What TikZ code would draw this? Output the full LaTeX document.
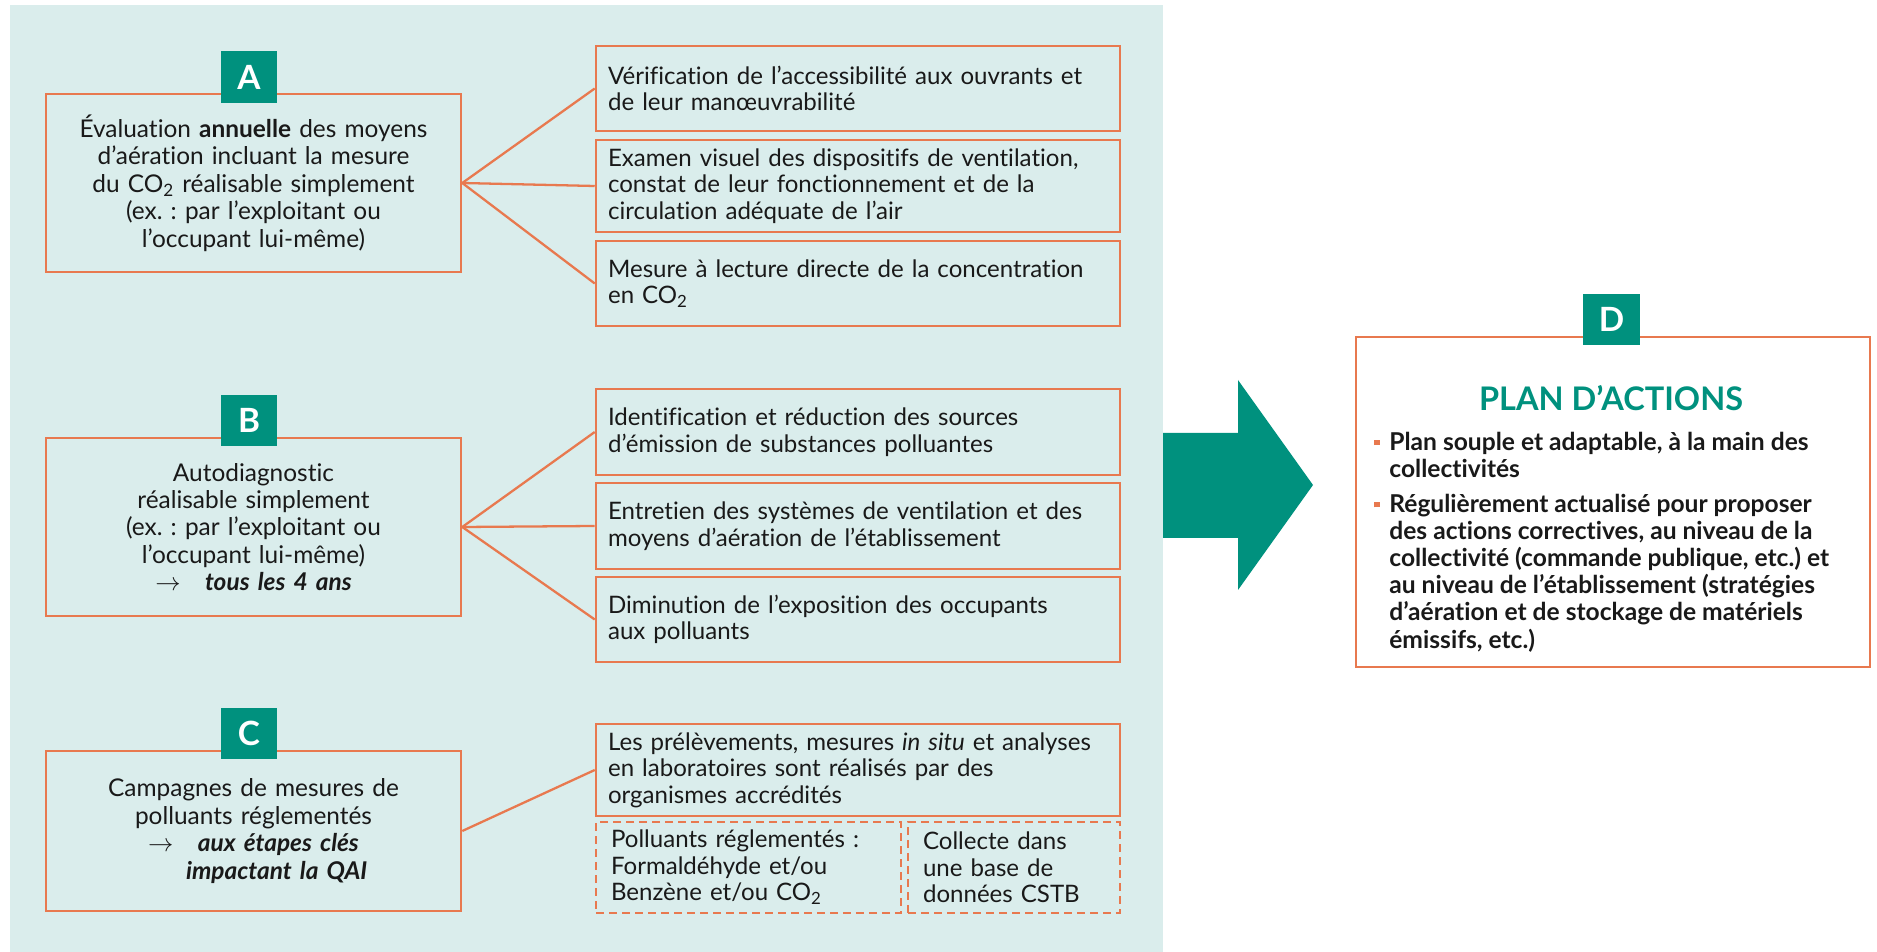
\documentclass[tikz,border=0pt]{standalone}
\usepackage{fontspec}
\setmainfont{Lato}[Ligatures=NoCommon]
\usetikzlibrary{positioning}
\definecolor{fond}{RGB}{218,237,236}
\definecolor{orangec}{RGB}{232,121,79}
\definecolor{sarcelle}{RGB}{0,145,126}
\definecolor{texte}{RGB}{25,25,25}
\frenchspacing
\newcommand{\puce}{\makebox[0.3cm][l]{\textcolor{orangec}{\rule[0.22em]{0.11cm}{0.11cm}}}}
\tikzset{
    every node/.style = {font=\fontsize{13.7}{15.1}\selectfont, text=texte},
    cadre/.style = {draw=orangec, line width=1.5pt, minimum width=8.3cm, text width=7.6cm, align=center, font=\fontsize{13.9}{15.6}\selectfont},
    action/.style = {draw=orangec, line width=1.5pt, text width=10cm, inner xsep=0.24cm, align=left},
    pointille/.style = {draw=orangec, line width=1.5pt, dash pattern=on 0.16cm off 0.1cm, inner xsep=0.3cm, align=left},
    lettre/.style = {fill=sarcelle, text=white, font=\fontsize{19}{19}\bfseries\selectfont, minimum width=1.14cm, minimum height=1.04cm, inner sep=0pt},
    lien/.style = {draw=orangec, line width=1.3pt}
}

\begin{document}
\begin{tikzpicture}[x=0.02cm, y=-0.02cm]
    \useasboundingbox (0,0) rectangle (1877,952);
    \fill[fond] (10,5) rectangle (1163,952);

    % colonne de gauche
    \node[cadre, minimum height=3.56cm] (A) at (253.5,183) {\'Evaluation \textbf{annuelle} des moyens\\ d’aération incluant la mesure\\ du CO\textsubscript{2} réalisable simplement\\ (ex. : par l’exploitant ou\\ l’occupant lui-même)};
    \node[cadre, minimum height=3.56cm] (B) at (253.5,527) {Autodiagnostic\\ réalisable simplement\\ (ex. : par l’exploitant ou\\ l’occupant lui-même)\\ $\rightarrow$\quad\textbf{\textit{tous les 4 ans}}};
    \node[cadre, minimum height=3.2cm] (C) at (253.5,831) {Campagnes de mesures de\\ polluants réglementés\\ $\rightarrow$\quad\textbf{\textit{aux étapes clés}}\\ \hspace*{1.9em}\textbf{\textit{impactant la QAI}}};

    \node[lettre] (lA) at (249,77) {A};
    \node[lettre] (lB) at (249,420.5) {B};
    \node[lettre] (lC) at (249,733.5) {C};

    % actions
    \node[action, minimum height=1.7cm] (A1) at (858,88.5) {Vérification de l’accessibilité aux ouvrants et\\ de leur manœuvrabilité};
    \node[action, minimum height=1.84cm] (A2) at (858,186) {Examen visuel des dispositifs de ventilation,\\ constat de leur fonctionnement et de la\\ circulation adéquate de l’air};
    \node[action, minimum height=1.7cm] (A3) at (858,283.5) {Mesure à lecture directe de la concentration\\ en CO\textsubscript{2}};
    \node[action, minimum height=1.72cm] (B1) at (858,432) {Identification et réduction des sources\\ d'émission de substances polluantes};
    \node[action, minimum height=1.72cm] (B2) at (858,526) {Entretien des systèmes de ventilation et des\\ moyens d'aération de l'établissement};
    \node[action, minimum height=1.7cm] (B3) at (858,619.5) {Diminution de l'exposition des occupants\\ aux polluants};
    \node[action, minimum height=1.84cm] (C1) at (858,770) {Les prélèvements, mesures \textit{in situ} et analyses\\ en laboratoires sont réalisés par des\\ organismes accrédités};
    \node[pointille, text width=5.5cm, minimum height=1.82cm] (C2) at (748.5,867.5) {Polluants réglementés :\\ Formaldéhyde et/ou\\ Benzène et/ou CO\textsubscript{2}};
    \node[pointille, text width=3.64cm, minimum height=1.82cm] (C3) at (1014,867.5) {Collecte dans\\ une base de\\ données CSTB};

    \draw[lien] (A.east) edge (A1.west) edge (A2.west) edge (A3.west);
    \draw[lien] (B.east) edge (B1.west) edge (B2.west) edge (B3.west);
    \draw[lien] (C.east) edge (C1.west);

    % fleche
    \fill[sarcelle] (1163,433) -- (1238,433) -- (1238,380) -- (1313,485) -- (1238,590) -- (1238,538) -- (1163,538) -- cycle;

    % plan d'actions
    \node[draw=orangec, line width=1.5pt, minimum width=10.28cm, minimum height=6.6cm] (D) at (1613,502) {};
    \node[lettre] (lD) at (1611.5,319.5) {D};
    \node[font=\fontsize{18.5}{18.5}\bfseries\selectfont, text=sarcelle] (titre) at (1611,398) {PLAN D’ACTIONS};
    \node[font=\fontsize{14}{15.4}\bfseries\selectfont, align=left, anchor=north west, inner sep=0pt] (liste) at (1374,432) {\puce Plan souple et adaptable, à la main des\\ \hspace*{0.3cm}collectivités\\[0.16cm]
        \puce Régulièrement actualisé pour proposer\\ \hspace*{0.3cm}des actions correctives, au niveau de la\\ \hspace*{0.3cm}collectivité (commande publique, etc.) et\\ \hspace*{0.3cm}au niveau de l’établissement (stratégies\\ \hspace*{0.3cm}d’aération et de stockage de matériels\\ \hspace*{0.3cm}émissifs, etc.)};
\end{tikzpicture}
\end{document}
